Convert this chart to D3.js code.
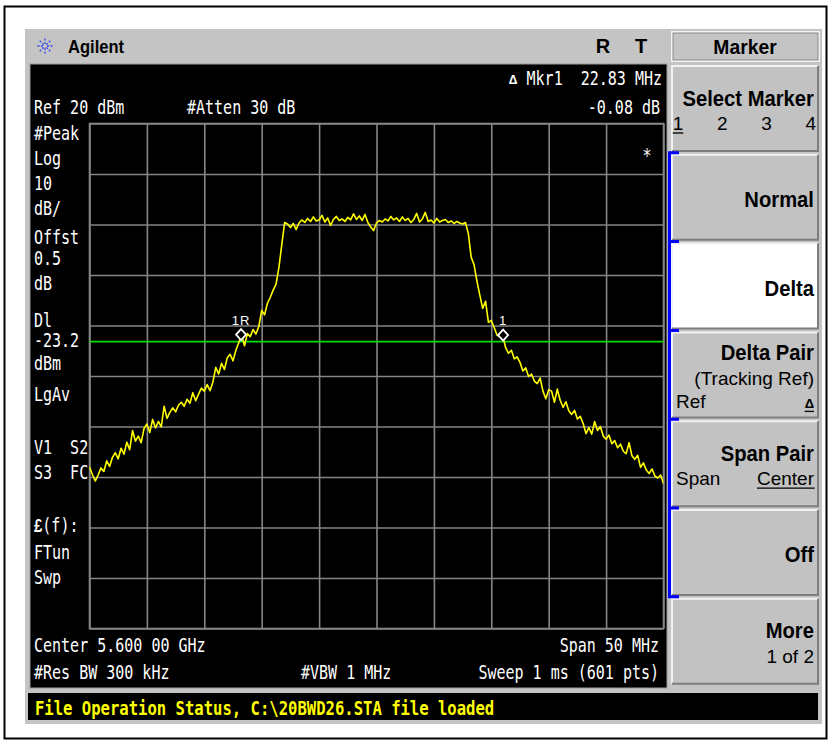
<!DOCTYPE html>
<html>
<head>
<meta charset="utf-8">
<script src="https://cdn.jsdelivr.net/npm/d3@7"></script>
<style>
  body { margin: 0; background: #fff; }
  svg { display: block; }
  text { white-space: pre; }
</style>
</head>
<body>
<div id="chart"></div>
<script>
// sweep settings
const centerMHz = 5600, spanMHz = 50;
const refLevel = 20, dbPerDiv = 10, displayLine = -23.2;

// trace levels in dBm (lower skirt, channel, upper skirt)
const lowerSkirt = [
  -48.0, -49.5, -50.8, -49.6, -48.2, -48.9, -46.8, -47.9, -46.1, -45.2,
  -46.4, -44.3, -45.5, -43.1, -44.6, -40.8, -42.9, -41.9, -43.2, -40.4,
  -39.5, -41.2, -38.6, -40.3, -39.0, -40.1, -36.0, -38.4, -37.2, -36.3,
  -37.1, -35.8, -35.2, -36.0, -34.6, -35.4, -33.3, -34.9, -33.6, -32.4,
  -33.0, -31.7, -32.9, -31.2, -28.3, -29.6, -27.5, -28.7, -26.4, -25.7,
  -27.0, -24.9, -23.4, -21.8, -24.0, -21.6, -22.2, -20.8, -21.7, -20.2,
  -17.0, -17.9, -15.6, -14.4, -13.0, -11.8, -8.5, -4.0, 0.4, 0.1
];
const channelTop = [
  -0.6, 0.2, -1.0, 0.3, 0.9, 0.4, 1.2, 0.6, 1.5, 0.7,
  0.9, 1.8, 0.5, 1.3, -0.2, 1.0, 1.6, 0.8, 1.1, 0.6,
  1.4, 0.9, 2.1, 1.0, 1.7, 0.8, 2.0, 0.4, -0.5, -1.2,
  0.3, 0.8, 0.5, 1.1, 0.7, 1.6, 0.9, 1.3, 0.6, 1.5,
  0.8, 1.2, 0.4, 1.0, 2.2, 0.5, 1.1, 2.4, 0.6, 0.9,
  0.3, 1.2, 0.5, 0.8, 1.0, 0.4, 0.7, 0.2, 0.6, 0.3,
  0.1, 0.4
];
const upperSkirt = [
  -1.8, -6.5, -8.0, -11.2, -14.0, -16.6, -15.2, -19.4, -19.0, -20.4,
  -21.9, -22.3, -22.0, -24.4, -25.5, -24.9, -26.6, -26.2, -27.3, -29.0,
  -28.4, -30.1, -29.6, -31.0, -31.5, -30.4, -33.0, -34.5, -32.7, -33.0,
  -35.2, -32.6, -34.8, -36.2, -35.1, -36.9, -37.6, -36.8, -38.5, -38.0,
  -39.4, -41.4, -40.2, -41.5, -39.0, -40.8, -40.0, -41.9, -42.5, -41.7,
  -43.4, -42.8, -44.2, -43.5, -44.9, -45.4, -43.2, -45.8, -46.5, -45.7,
  -48.1, -47.2, -48.6, -49.3, -48.4, -49.8, -50.2, -49.6, -51.3
];

const markers = [
  { label: "1R", freq: 5588.20, level: -21.8 },
  { label: "1", freq: 5611.03, level: -21.9 }
];

const leftAnnotations = [
  ["#Peak", 139], ["Log", 164], ["10", 189], ["dB/", 214], ["Offst", 243],
  ["0.5", 264], ["dB", 289], ["Dl", 326], ["-23.2", 346], ["dBm", 369],
  ["LgAv", 400], ["V1  S2", 453], ["S3  FC", 478], ["FTun", 558], ["Swp", 583]
];

const softkeys = [
  { title: "Select Marker", row: ["1", "2", "3", "4"] },
  { title: "Normal" },
  { title: "Delta", selected: true },
  { title: "Delta Pair", sub: "(Tracking Ref)", left: "Ref", right: "\u0394" },
  { title: "Span Pair", left: "Span", right: "Center" },
  { title: "Off" },
  { title: "More", sub: "1 of 2" }
];

let width = 831, height = 745;

let svg = d3.select("#chart")
  .append("svg")
  .attr("width", width)
  .attr("height", height);

const mono = "'DejaVu Sans Mono', monospace";
const sans = "'Liberation Sans', Arial, sans-serif";

// the analyser's screen font is tall and narrow
function monoText(str, x, y, anchor = "start", color = "#fff") {
  return svg.append("text")
    .attr("transform", `translate(${x},${y}) scale(0.79,1)`)
    .attr("text-anchor", anchor)
    .attr("font-family", mono)
    .attr("font-size", 19)
    .attr("fill", color)
    .text(str);
}

// frame
svg.append("rect")
  .attr("x", 4.5).attr("y", 6.5).attr("width", 822).attr("height", 732)
  .attr("fill", "#fff").attr("stroke", "#000").attr("stroke-width", 2);

svg.append("rect")
  .attr("x", 25).attr("y", 29).attr("width", 797).attr("height", 695)
  .attr("fill", "#c4c4c4");

// title bar
let star = svg.append("g").attr("transform", "translate(45,46)");
for (let a = 0; a < 8; a++) {
  let ang = a * Math.PI / 4;
  star.append("line")
    .attr("x1", Math.cos(ang) * 2).attr("y1", Math.sin(ang) * 2)
    .attr("x2", Math.cos(ang) * 9).attr("y2", Math.sin(ang) * 9)
    .attr("stroke", "#3046e8").attr("stroke-width", 1.3)
    .attr("stroke-dasharray", "2,1.5");
}
svg.append("text").attr("transform", "translate(68,53) scale(0.92,1)")
  .attr("font-family", sans).attr("font-weight", "bold").attr("font-size", 18)
  .attr("fill", "#000").text("Agilent");
svg.append("text").attr("x", 603).attr("y", 53).attr("text-anchor", "middle")
  .attr("font-family", sans).attr("font-weight", "bold").attr("font-size", 20).text("R");
svg.append("text").attr("x", 641).attr("y", 53).attr("text-anchor", "middle")
  .attr("font-family", sans).attr("font-weight", "bold").attr("font-size", 20).text("T");

// screen
svg.append("rect")
  .attr("x", 30).attr("y", 64).attr("width", 637).attr("height", 624)
  .attr("fill", "#000").attr("stroke", "#9a9a9a").attr("stroke-width", 1);

let x = d3.scaleLinear()
  .domain([centerMHz - spanMHz / 2, centerMHz + spanMHz / 2])
  .range([89.5, 663.5]);

let y = d3.scaleLinear()
  .domain([refLevel - 10 * dbPerDiv, refLevel])
  .range([628.5, 123.5]);

const gw = x.range()[1] - x.range()[0];
const gh = y.range()[0] - y.range()[1];

let gridX = svg.append("g")
  .attr("transform", `translate(0,${y.range()[0]})`)
  .call(d3.axisBottom(x).ticks(10).tickSize(-gh).tickFormat(""));
let gridY = svg.append("g")
  .attr("transform", `translate(${x.range()[0]},0)`)
  .call(d3.axisLeft(y).ticks(10).tickSize(-gw).tickFormat(""));
[gridX, gridY].forEach(g => {
  g.select(".domain").remove();
  g.selectAll("line").attr("stroke", "#858585").attr("stroke-width", 1.6);
});
svg.append("rect")
  .attr("x", x.range()[0]).attr("y", y.range()[1])
  .attr("width", gw).attr("height", gh)
  .attr("fill", "none").attr("stroke", "#858585").attr("stroke-width", 1.6);

// display line
svg.append("line")
  .attr("x1", x.range()[0]).attr("x2", x.range()[1])
  .attr("y1", y(displayLine)).attr("y2", y(displayLine))
  .attr("stroke", "#00e000").attr("stroke-width", 1.6);

// trace
let levels = lowerSkirt.concat(channelTop, upperSkirt);
let step = spanMHz / (levels.length - 1);
let trace = levels.map((v, i) => ({ f: x.domain()[0] + i * step, v: v }));

svg.append("clipPath").attr("id", "grat")
  .append("rect")
  .attr("x", x.range()[0]).attr("y", y.range()[1])
  .attr("width", gw).attr("height", gh);

svg.append("path")
  .datum(trace)
  .attr("clip-path", "url(#grat)")
  .attr("fill", "none")
  .attr("stroke", "#ffff00")
  .attr("stroke-width", 1.6)
  .attr("stroke-linejoin", "round")
  .attr("d", d3.line().x(d => x(d.f)).y(d => y(d.v)));

// markers
let mk = svg.selectAll(".mk")
  .data(markers)
  .join("g")
  .attr("class", "mk")
  .attr("transform", d => `translate(${x(d.freq)},${y(d.level)})`);
mk.append("path")
  .attr("d", "M0,-5.5L5,0L0,5.5L-5,0Z")
  .attr("fill", "#000").attr("stroke", "#fff").attr("stroke-width", 1.8);
mk.append("text")
  .attr("y", -10)
  .attr("text-anchor", "middle")
  .attr("font-family", sans)
  .attr("font-size", 13)
  .attr("letter-spacing", 1)
  .attr("fill", "#fff")
  .text(d => d.label);

// screen annotations
svg.append("text").attr("x", 513).attr("y", 84).attr("text-anchor", "middle")
  .attr("font-family", sans).attr("font-weight", "bold").attr("font-size", 12)
  .attr("fill", "#fff").text("\u0394");
monoText("Mkr1  22.83 MHz", 662, 85, "end");
monoText("Ref 20 dBm", 34, 114);
monoText("#Atten 30 dB", 187, 114);
monoText("-0.08 dB", 660, 114, "end");
monoText("*", 647, 162, "middle");

leftAnnotations.forEach(([t, yy]) => monoText(t, 34, yy + 1));
let ff = monoText("", 34, 532);
ff.append("tspan").attr("font-weight", "bold").attr("font-family", sans).text("\u00a3");
ff.append("tspan").text("(f):");

monoText("Center 5.600 00 GHz", 34, 652);
monoText("Span 50 MHz", 659, 652, "end");
monoText("#Res BW 300 kHz", 34, 679);
monoText("#VBW 1 MHz", 301, 679);
monoText("Sweep 1 ms (601 pts)", 659, 679, "end");

// status bar
svg.append("rect")
  .attr("x", 28).attr("y", 693).attr("width", 790).attr("height", 27)
  .attr("fill", "#000");
svg.append("text")
  .attr("transform", "translate(35,715) scale(0.82,1)")
  .attr("font-family", mono).attr("font-weight", "bold").attr("font-size", 19)
  .attr("fill", "#ffff00")
  .text("File Operation Status, C:\\20BWD26.STA file loaded");

// softkey panel
svg.append("rect")
  .attr("x", 672).attr("y", 32).attr("width", 147).attr("height", 29)
  .attr("fill", "#c4c4c4").attr("stroke", "#f4f4f4").attr("stroke-width", 2);
svg.append("rect")
  .attr("x", 673).attr("y", 33).attr("width", 145).attr("height", 27)
  .attr("fill", "none").attr("stroke", "#8a8a8a").attr("stroke-width", 1);
svg.append("text").attr("transform", "translate(745,54) scale(0.92,1)")
  .attr("text-anchor", "middle")
  .attr("font-family", sans).attr("font-weight", "bold").attr("font-size", 21)
  .text("Marker");

const keyTop = 66, keyPitch = 88.8, keyH = 85, keyX = 672, keyW = 146;
const keyRight = keyX + keyW - 4;

function sub(str, xx, yy, anchor, underline) {
  let t = svg.append("text").attr("x", xx).attr("y", yy)
    .attr("text-anchor", anchor)
    .attr("font-family", sans).attr("font-size", 19)
    .attr("fill", "#000").text(str);
  if (str === "\u0394") t.attr("font-size", 13).attr("font-weight", "bold");
  if (underline) {
    let b = t.node().getBBox();
    svg.append("line")
      .attr("x1", b.x).attr("x2", b.x + b.width)
      .attr("y1", yy + 3).attr("y2", yy + 3)
      .attr("stroke", "#000").attr("stroke-width", 1.3);
  }
  return t;
}

softkeys.forEach((k, i) => {
  let top = keyTop + i * keyPitch;
  svg.append("rect")
    .attr("x", keyX).attr("y", top).attr("width", keyW).attr("height", keyH)
    .attr("fill", k.selected ? "#fff" : "#c2c2c2");
  // bevel
  svg.append("path")
    .attr("d", `M${keyX},${top + keyH}V${top}H${keyX + keyW}`)
    .attr("fill", "none").attr("stroke", "#f2f2f2").attr("stroke-width", 2);
  svg.append("path")
    .attr("d", `M${keyX + keyW},${top}V${top + keyH}H${keyX}`)
    .attr("fill", "none").attr("stroke", "#7e7e7e").attr("stroke-width", 2);

  let titleY, subY, lrY;
  if (k.sub && k.left) { titleY = top + 28; subY = top + 53; lrY = top + 76; }
  else if (k.sub) { titleY = top + 39; subY = top + 64; }
  else if (k.left || k.row) { titleY = top + 40; lrY = top + 64; }
  else { titleY = top + 52; }

  svg.append("text")
    .attr("transform", `translate(${keyRight},${titleY}) scale(0.92,1)`)
    .attr("text-anchor", "end")
    .attr("font-family", sans).attr("font-weight", "bold").attr("font-size", 22)
    .attr("fill", "#000").text(k.title);

  if (k.sub) sub(k.sub, keyRight, subY, "end", false);
  if (k.left) sub(k.left, keyX + 4, lrY, "start", false);
  if (k.right) sub(k.right, keyRight, lrY, "end", true);
  if (k.row) {
    k.row.forEach((r, j) => sub(r, keyX + 6 + j * 44.3, lrY, "middle", j === 0));
  }
});

// blue bracket grouping the marker mode keys
let bTop = keyTop + keyPitch - 2, bBot = keyTop + 6 * keyPitch - 2;
let bracket = d3.path();
bracket.moveTo(679, bTop); bracket.lineTo(669.5, bTop);
bracket.lineTo(669.5, bBot); bracket.lineTo(679, bBot);
for (let i = 2; i < 6; i++) {
  let yy = keyTop + i * keyPitch - 2;
  bracket.moveTo(669.5, yy); bracket.lineTo(679, yy);
}
svg.append("path")
  .attr("d", bracket.toString())
  .attr("fill", "none").attr("stroke", "#0000ff").attr("stroke-width", 3);
</script>
</body>
</html>
